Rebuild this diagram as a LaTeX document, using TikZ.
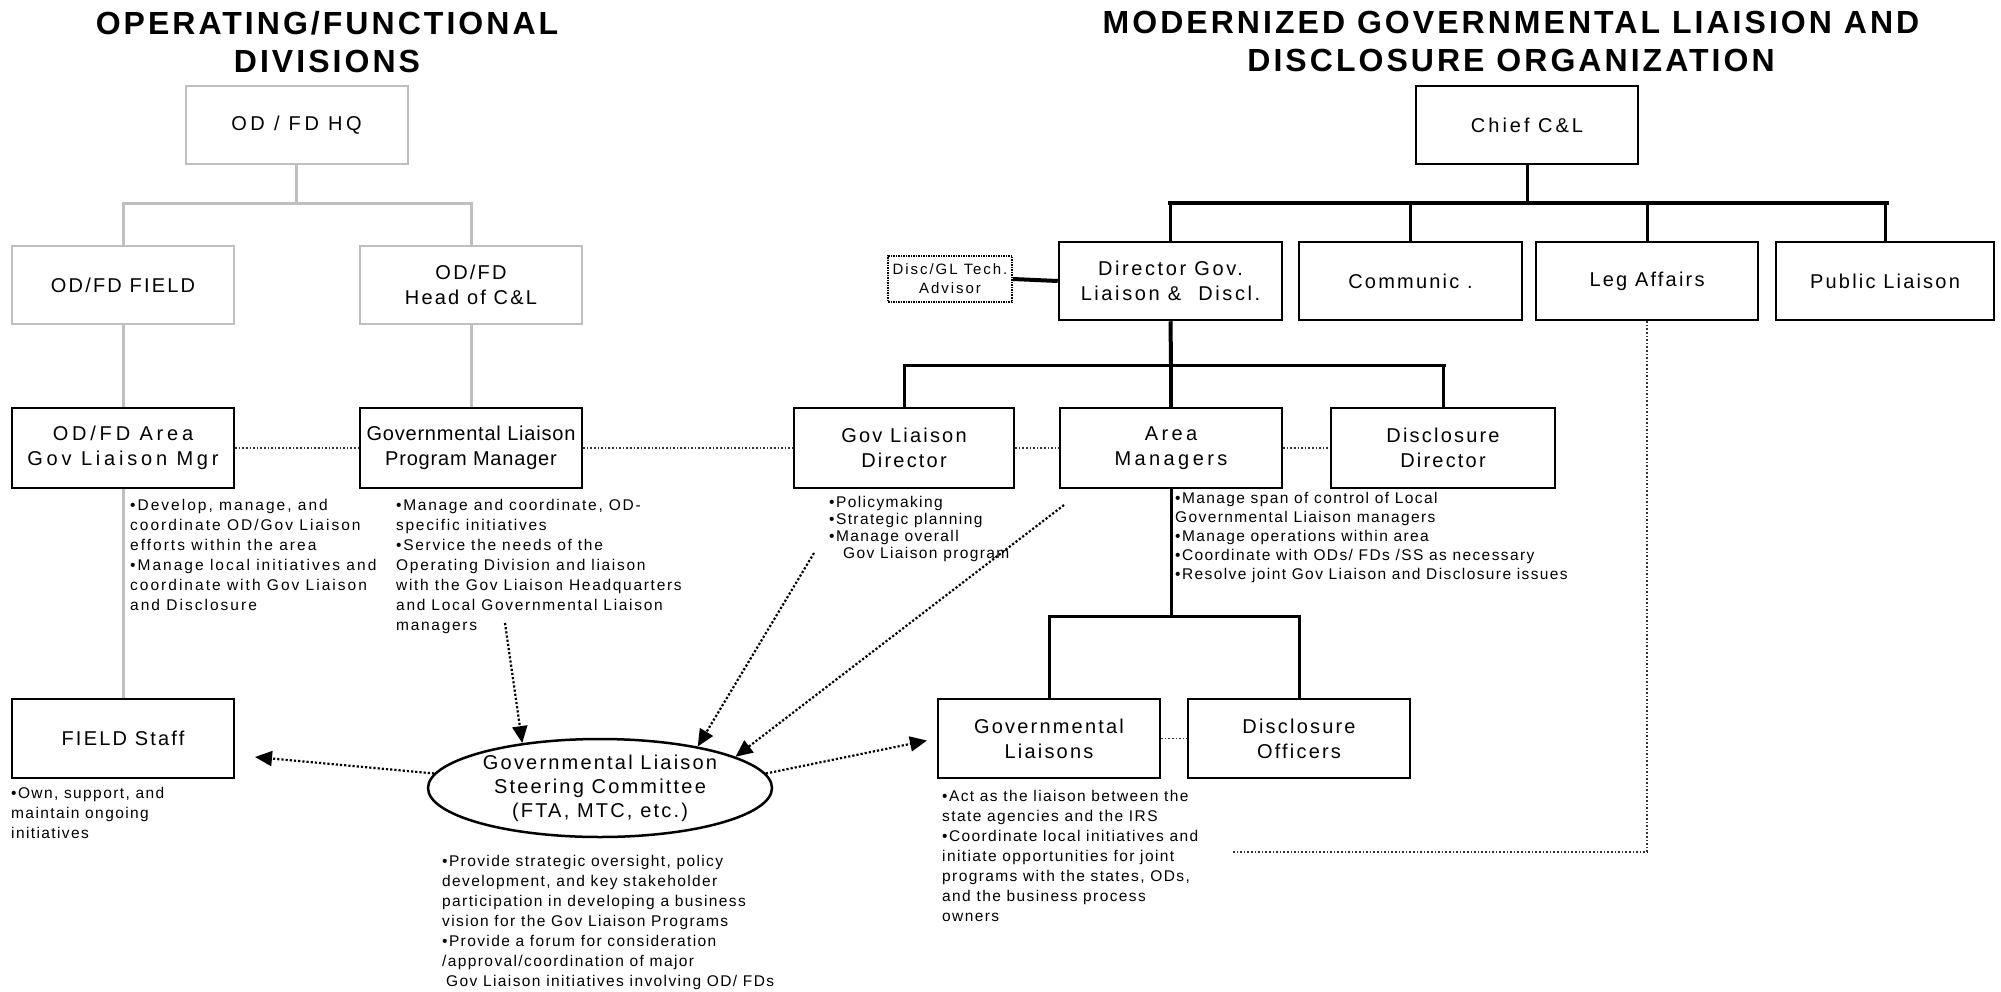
\documentclass[tikz,border=0pt]{standalone}
\usepackage{fontspec}
\setmainfont{Liberation Sans}[LetterSpace=11]
\newfontfamily\titlefont{Liberation Sans}[LetterSpace=9.5]
\newfontfamily\notefam{Liberation Sans}[LetterSpace=9]
\usetikzlibrary{arrows.meta,shapes.geometric}
\newcommand{\boxfont}{\fontsize{20}{25}\selectfont}
\newcommand{\notefont}{\notefam\fontsize{15.5}{20}\selectfont}
\tikzset{
  gbox/.style={draw=black!25, line width=2pt, inner sep=0pt, align=center, font=\boxfont, minimum width=222pt, minimum height=78pt},
  bbox/.style={draw=black, line width=2.5pt, inner sep=0pt, align=center, font=\boxfont, minimum width=222pt, minimum height=79pt},
  glin/.style={draw=black!25, line width=3pt},
  blin/.style={draw=black, line width=3pt},
  tlin/.style={draw=black, line width=4pt},
  dotlin/.style={draw=black!80, line width=1.6pt, dotted},
  arr/.style={draw=black, line width=2.2pt, dotted, -{Triangle[length=17pt,width=15pt]}},
  note/.style={anchor=north west, align=left, inner sep=0pt, font=\notefont},
  ttl/.style={anchor=north, align=center, inner sep=0pt, font=\titlefont\fontsize{32}{38}\selectfont\bfseries}
}
\begin{document}
\begin{tikzpicture}[x=1pt,y=-1pt]
\useasboundingbox[fill=white] (0,0) rectangle (2001,992);

% titles
\node[ttl] (t1) at (327,11) {OPERATING/FUNCTIONAL\\DIVISIONS};
\node[ttl] (t2) at (1511,11) {MODERNIZED GOVERNMENTAL LIAISION AND\\DISCLOSURE ORGANIZATION};

% left side
\node[gbox, font=\boxfont\addfontfeatures{LetterSpace=18}] (hq) at (296.5,125) {OD / FD HQ};
\node[gbox] (field) at (123,285) {OD/FD FIELD};
\node[gbox] (headcl) at (471,285) {OD/FD\\Head of C\&L};
\node[bbox, minimum height=80pt, font=\boxfont\addfontfeatures{LetterSpace=19}] (areamgr) at (123,448) {OD/FD Area\\Gov Liaison  Mgr};
\node[bbox, minimum height=80pt, font=\boxfont\addfontfeatures{LetterSpace=4}] (pm) at (471,448) {Governmental Liaison\\Program Manager};
\node[bbox] (fs) at (123,738.5) {FIELD Staff};

\coordinate (j1) at (296.5,204);
\draw[glin] (hq.south) -- (j1);
\draw[glin] (j1) -| (field.north);
\draw[glin] (j1) -| (headcl.north);
\draw[glin] (field.south) -- (areamgr.north);
\draw[glin] (areamgr.south) -- (fs.north);
\draw[glin] (headcl.south) -- (pm.north);

% right side top
\node[bbox, minimum height=78pt, font=\boxfont\addfontfeatures{LetterSpace=15}] (chief) at (1527,125) {Chief C\&L};
\node[bbox, minimum height=78pt, minimum width=223pt, font=\boxfont\addfontfeatures{LetterSpace=13}] (dir) at (1170.5,281) {Director Gov.\\Liaison \&\hspace{9pt} Discl.};
\node[bbox, minimum height=78pt, minimum width=223pt] (comm) at (1410.5,281) {Communic .};
\node[bbox, minimum height=78pt] (leg) at (1647,281) {Leg Affairs};
\node[bbox, minimum height=78pt, minimum width=218pt] (pub) at (1885,281) {Public Liaison};
\node[draw=black, line width=1.5pt, densely dotted, minimum width=124pt, minimum height=46pt, inner sep=0pt, align=center, font=\fontsize{15}{19}\selectfont\addfontfeatures{LetterSpace=13}] (tech) at (950,279) {Disc/GL Tech.\\Advisor};

\coordinate (j2) at (1527,203);
\draw[blin] (chief.south) -- (j2);
\draw[tlin] (1168,203) -- (1889,203);
\draw[blin] (j2) -| (dir.north);
\draw[blin] (j2) -| (comm.north);
\draw[blin] (j2) -| (leg.north);
\draw[blin] (j2) -| (pub.north);
\draw[tlin] (tech.east) -- (dir.west);

% middle row right
\node[bbox, minimum height=80pt, minimum width=220pt] (gld) at (904,448) {Gov Liaison\\Director};
\node[bbox, minimum height=80pt, font=\boxfont\addfontfeatures{LetterSpace=17}] (am) at (1171,448) {Area\\Managers};
\node[bbox, minimum height=80pt, minimum width=224pt] (dd) at (1443,448) {Disclosure\\Director};

\coordinate (j3) at (1171,365);
\draw[tlin] (dir.south) -- (j3);
\draw[blin] (903.5,365) -- (1445.5,365);
\draw[blin] (j3) -| (gld.north);
\draw[tlin] (j3) -- (am.north);
\draw[blin] (j3) -| (dd.north);

% bottom right
\node[bbox] (gl) at (1049,738.5) {Governmental\\Liaisons};
\node[bbox] (do) at (1299,738.5) {Disclosure\\Officers};
\coordinate (j4) at (1171,616);
\draw[blin] (am.south) -- (j4);
\draw[blin] (1047.5,616) -- (1300.5,616);
\draw[blin] (j4) -| (gl.north);
\draw[blin] (j4) -| (do.north);

% dotted links
\draw[dotlin] (areamgr.east) -- (pm.west);
\draw[dotlin] (pm.east) -- (gld.west);
\draw[dotlin] (gld.east) -- (am.west);
\draw[dotlin] (am.east) -- (dd.west);
\draw[dotlin] (gl.east) -- (do.west);
\coordinate (legend) at (1231,852);
\draw[dotlin] (leg.south) |- (legend);

% ellipse
\node[draw=black, line width=2.5pt, ellipse, minimum width=344pt, minimum height=98pt, inner sep=0pt, align=center, font=\fontsize{20}{24}\selectfont] (ell) at (600,788) {Governmental Liaison\\Steering Committee\\(FTA, MTC, etc.)};

% arrows
\coordinate (s1) at (505,623);
\coordinate (s2) at (814,553);
\coordinate (s3) at (1064,505);
\coordinate (fstip) at (255,757);
\draw[arr] (s1) -- (ell.150);
\draw[arr] (s2) -- (ell.23);
\draw[arr] (s3) -- (ell.13);
\draw[arr, shorten >=10pt] (ell.5) -- (gl.west);
\draw[arr] (ell.175) -- (fstip);

% notes
\node[note, font=\notefont\addfontfeatures{LetterSpace=13}] (n1) at (130,499.5) {•Develop, manage, and\\coordinate OD/Gov Liaison\\efforts within the area\\•Manage local initiatives and\\coordinate with Gov Liaison\\and Disclosure};
\node[note, font=\notefont\addfontfeatures{LetterSpace=11}] (n2) at (396,499.5) {•Manage and coordinate, OD-\\specific initiatives\\•Service the needs of the\\Operating Division and liaison\\with the  Gov Liaison Headquarters\\and Local Governmental Liaison\\managers};
\node[note, font=\notefont\fontsize{15.5}{17}\selectfont] (n3) at (829,496) {•Policymaking\\•Strategic planning\\•Manage overall\\\hspace*{14pt}Gov Liaison  program};
\node[note, font=\notefont\fontsize{15.5}{19}\selectfont] (n4) at (1175,492) {•Manage span of control of Local\\Governmental Liaison managers\\•Manage operations within area\\•Coordinate with ODs/ FDs /SS as necessary\\•Resolve joint  Gov Liaison and Disclosure issues};
\node[note] (n5) at (11,787) {•Own, support, and\\maintain ongoing\\initiatives};
\node[note] (n6) at (442,855) {•Provide strategic oversight, policy\\development, and key stakeholder\\participation in developing a business\\vision for the  Gov Liaison Programs\\•Provide a forum for consideration\\/approval/coordination of major\\\hspace*{4pt}Gov Liaison initiatives involving OD/ FDs};
\node[note] (n7) at (942,790) {•Act as the liaison between the\\state agencies and the IRS\\•Coordinate local initiatives and\\initiate opportunities for joint\\programs with the states, ODs,\\and the business process\\owners};
\end{tikzpicture}
\end{document}
